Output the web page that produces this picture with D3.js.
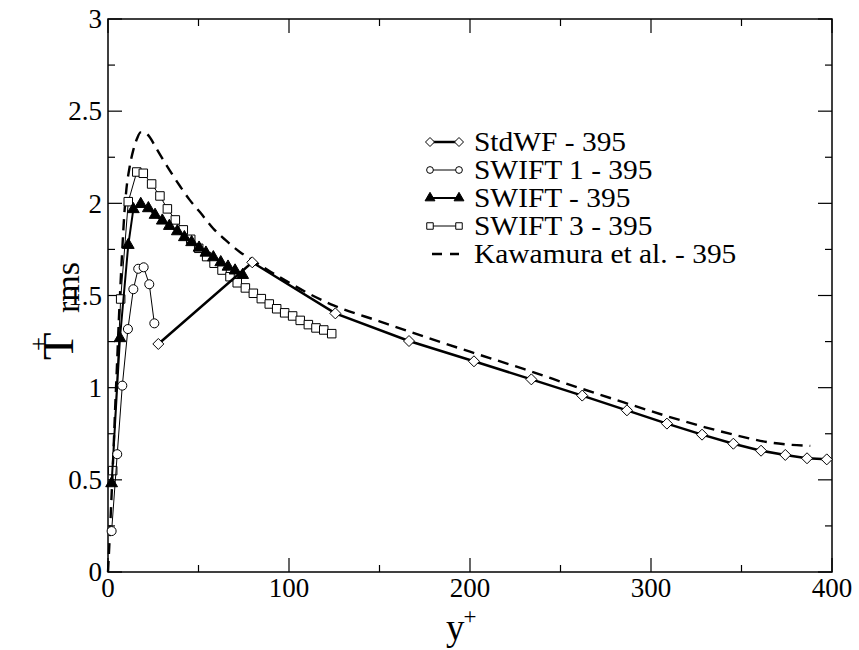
<!DOCTYPE html>
<html>
<head>
<meta charset="utf-8">
<script src="https://cdn.jsdelivr.net/npm/d3@7"></script>
<style>
  body { margin: 0; background: #fff; }
  svg { display: block; }
  text { font-family: "Liberation Serif", "Times New Roman", serif; fill: #000; }
</style>
</head>
<body>
<svg id="chart" width="859" height="650" font-family="Liberation Serif, Times New Roman, serif"></svg>
<script>
// ---- data ----
const stdwfX = [27.8, 79.7, 125.6, 166.3, 202.2, 233.9, 262.0, 286.7, 308.8, 328.2, 345.5, 360.8, 374.2, 386.2, 397.1];
const stdwfY = [1.237, 1.680, 1.403, 1.253, 1.143, 1.045, 0.957, 0.877, 0.805, 0.745, 0.696, 0.658, 0.635, 0.617, 0.611];

const swift1X = [2.0, 5.1, 7.9, 11.0, 14.0, 16.7, 19.7, 22.8, 25.6];
const swift1Y = [0.222, 0.639, 1.011, 1.318, 1.534, 1.645, 1.653, 1.561, 1.349];

const swiftX = [2.0, 6.6, 11.2, 14.0, 18.1, 22.3, 26.0, 30.0, 33.9, 38.3, 42.2, 46.2, 50.3, 54.1, 58.2, 62.3, 66.3, 70.2, 74.4];
const swiftY = [0.481, 1.268, 1.774, 1.968, 1.996, 1.973, 1.937, 1.906, 1.877, 1.848, 1.816, 1.789, 1.759, 1.732, 1.707, 1.680, 1.656, 1.635, 1.611];

const swift3X = [2.6, 7.0, 11.2, 15.9, 19.5, 24.1, 28.7, 32.8, 37.2, 41.6, 45.7, 50.1, 54.5, 58.6, 63.0, 67.4, 71.4, 75.9, 80.3, 84.7, 89.1, 93.2, 97.6, 102.0, 106.2, 110.7, 114.9, 119.2, 123.6];
const swift3Y = [0.550, 1.481, 2.009, 2.170, 2.163, 2.105, 2.040, 1.970, 1.910, 1.856, 1.805, 1.756, 1.711, 1.675, 1.638, 1.602, 1.569, 1.541, 1.512, 1.483, 1.454, 1.428, 1.406, 1.389, 1.365, 1.342, 1.324, 1.313, 1.293];

const kawaX = [0, 1, 2, 3, 4, 5, 6, 7, 8, 9, 10, 12, 14, 16, 18, 20, 23, 26, 29, 34, 40, 45, 51, 58, 65, 73, 80, 90, 100, 110, 125, 150, 175, 200, 230, 260, 285, 309, 330, 353, 364, 375, 388];
const kawaY = [0, 0.2, 0.42, 0.65, 0.9, 1.13, 1.37, 1.58, 1.77, 1.94, 2.06, 2.2, 2.29, 2.35, 2.385, 2.385, 2.36, 2.31, 2.26, 2.18, 2.09, 2.02, 1.95, 1.865, 1.80, 1.735, 1.69, 1.628, 1.57, 1.515, 1.445, 1.36, 1.276, 1.195, 1.10, 1.0, 0.92, 0.845, 0.785, 0.728, 0.705, 0.692, 0.684];

const xTicks = [0, 100, 200, 300, 400];
const xMinor = [50, 150, 250, 350];
const yTicks = [0, 0.5, 1, 1.5, 2, 2.5, 3];
const yMinor = [0.25, 0.75, 1.25, 1.75, 2.25, 2.75];
const seriesNames = ["StdWF - 395", "SWIFT 1 - 395", "SWIFT - 395", "SWIFT 3 - 395", "Kawamura et al. - 395"];

// ---- layout ----
const svg = d3.select("#chart");
const L = 108, R = 832, T = 19, B = 572;
const x = d3.scaleLinear().domain([0, 400]).range([L, R]);
const y = d3.scaleLinear().domain([0, 3]).range([B, T]);

const zip = (xs, ys) => xs.map((v, i) => [v, ys[i]]);
const line = d3.line().x(d => x(d[0])).y(d => y(d[1]));

// frame
svg.append("rect").attr("x", L).attr("y", T).attr("width", R - L).attr("height", B - T)
  .attr("fill", "none").attr("stroke", "#000").attr("stroke-width", 1.5);

// ticks (inside, all four sides)
const tickG = svg.append("g").attr("stroke", "#000").attr("stroke-width", 1.2);
xTicks.forEach(v => {
  tickG.append("line").attr("x1", x(v)).attr("x2", x(v)).attr("y1", B).attr("y2", B - 14);
  tickG.append("line").attr("x1", x(v)).attr("x2", x(v)).attr("y1", T).attr("y2", T + 14);
});
xMinor.forEach(v => {
  tickG.append("line").attr("x1", x(v)).attr("x2", x(v)).attr("y1", B).attr("y2", B - 7);
  tickG.append("line").attr("x1", x(v)).attr("x2", x(v)).attr("y1", T).attr("y2", T + 7);
});
yTicks.forEach(v => {
  tickG.append("line").attr("y1", y(v)).attr("y2", y(v)).attr("x1", L).attr("x2", L + 14);
  tickG.append("line").attr("y1", y(v)).attr("y2", y(v)).attr("x1", R).attr("x2", R - 14);
});
yMinor.forEach(v => {
  tickG.append("line").attr("y1", y(v)).attr("y2", y(v)).attr("x1", L).attr("x2", L + 7);
  tickG.append("line").attr("y1", y(v)).attr("y2", y(v)).attr("x1", R).attr("x2", R - 7);
});

// tick labels
svg.append("g").selectAll("text").data(xTicks).join("text")
  .attr("x", d => x(d)).attr("y", 597).attr("text-anchor", "middle")
  .attr("font-size", 27).text(d => d);
svg.append("g").selectAll("text").data(yTicks).join("text")
  .attr("x", L - 6).attr("y", d => y(d)).attr("dy", "0.34em").attr("text-anchor", "end")
  .attr("font-size", 27).text(d => d);

// axis titles
const xt = svg.append("text").attr("x", 446).attr("y", 640).attr("font-size", 37);
xt.append("tspan").text("y");
xt.append("tspan").attr("dx", -1).attr("dy", -16).attr("font-size", 23).text("+");

const yt = svg.append("g").attr("transform", "translate(73,360) rotate(-90)");
yt.append("text").attr("x", 0).attr("y", 0).attr("font-size", 45).text("T");
yt.append("text").attr("x", 16).attr("y", -26).attr("text-anchor", "middle").attr("font-size", 25).text("+");
yt.append("text").attr("x", 47).attr("y", 6).attr("font-size", 34).text("rms");

// ---- series ----
const plot = svg.append("g");

// Kawamura dashed
plot.append("path").datum(zip(kawaX, kawaY)).attr("d", d3.line().x(d => x(d[0])).y(d => y(d[1])).curve(d3.curveMonotoneX))
  .attr("fill", "none").attr("stroke", "#000").attr("stroke-width", 2.4).attr("stroke-dasharray", "11,7");

const diamond = {
  draw(ctx, s) {
    const r = Math.sqrt(s) / 2;
    ctx.moveTo(0, -r); ctx.lineTo(r, 0); ctx.lineTo(0, r); ctx.lineTo(-r, 0); ctx.closePath();
  }
};

function drawSeries(data, lw, shape, size, fill) {
  plot.append("path").datum(data).attr("d", line)
    .attr("fill", "none").attr("stroke", "#000").attr("stroke-width", lw);
  const sym = d3.symbol().type(shape).size(size);
  plot.append("g").selectAll("path").data(data).join("path")
    .attr("transform", d => `translate(${x(d[0])},${y(d[1])})`)
    .attr("d", sym).attr("fill", fill).attr("stroke", "#000").attr("stroke-width", 1);
}

drawSeries(zip(swift3X, swift3Y), 1, d3.symbolSquare, 72, "#fff");
drawSeries(zip(swiftX, swiftY), 2, d3.symbolTriangle, 60, "#000");
drawSeries(zip(swift1X, swift1Y), 1, d3.symbolCircle, 64, "#fff");
drawSeries(zip(stdwfX, stdwfY), 2.5, diamond, 121, "#fff");

// ---- legend ----
const lg = svg.append("g");
const rowsY = [142, 170, 198, 226, 254];
const legendDefs = [
  { lw: 2.5, shape: diamond, size: 81, fill: "#fff" },
  { lw: 1, shape: d3.symbolCircle, size: 36, fill: "#fff" },
  { lw: 2, shape: d3.symbolTriangle, size: 42, fill: "#000" },
  { lw: 1, shape: d3.symbolSquare, size: 42, fill: "#fff" },
  { lw: 2.4, shape: null }
];
legendDefs.forEach((d, i) => {
  const yy = rowsY[i];
  if (d.shape) {
    lg.append("line").attr("x1", 430).attr("x2", 459).attr("y1", yy).attr("y2", yy)
      .attr("stroke", "#000").attr("stroke-width", d.lw);
    [430, 459].forEach(px => {
      lg.append("path").attr("transform", `translate(${px},${yy})`)
        .attr("d", d3.symbol().type(d.shape).size(d.size)())
        .attr("fill", d.fill).attr("stroke", "#000").attr("stroke-width", 1);
    });
  } else {
    lg.append("line").attr("x1", 432).attr("x2", 459).attr("y1", yy).attr("y2", yy)
      .attr("stroke", "#000").attr("stroke-width", d.lw).attr("stroke-dasharray", "10,8");
  }
  const t = lg.append("text").attr("x", 474).attr("y", yy).attr("dy", "0.34em")
    .attr("font-size", 27).text(seriesNames[i]);
  const w = t.node().getComputedTextLength();
  t.attr("textLength", w * 1.09).attr("lengthAdjust", "spacingAndGlyphs");
});
</script>
</body>
</html>
